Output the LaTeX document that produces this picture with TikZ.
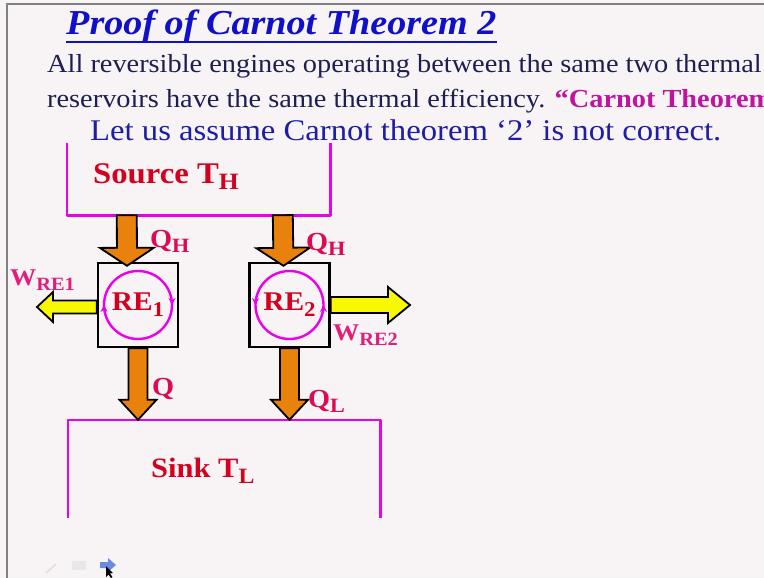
\documentclass[tikz,border=0pt]{standalone}
\usepackage{fontspec}
\setmainfont{Liberation Serif}
\usetikzlibrary{arrows.meta,calc,decorations.markings,positioning}

\definecolor{titleblue}{RGB}{16,16,200}
\definecolor{textnavy}{RGB}{30,30,80}
\definecolor{lineblue}{RGB}{30,30,165}
\definecolor{carnotpink}{RGB}{190,20,160}
\definecolor{labelred}{RGB}{212,0,30}
\definecolor{heatred}{RGB}{220,10,80}
\definecolor{workpink}{RGB}{225,30,120}
\definecolor{resmag}{RGB}{235,0,235}
\definecolor{heatorange}{RGB}{232,130,12}
\definecolor{workyellow}{RGB}{248,248,0}
\definecolor{slidebg}{RGB}{248,244,246}
\definecolor{toolblue}{RGB}{70,110,220}

% slide text is a little wider than the font
\newcommand\wide[1]{\scalebox{1.09}[1]{#1}}
\newcommand\lowsub[1]{\raisebox{-0.22em}{\scalebox{0.78}{#1}}}

% fat outlined arrow: from, to, shaft half width, head half width, head length, fill
\newcommand\flowarrow[6]{%
  \path ($(#2)!#5!(#1)$) coordinate (hb);
  \filldraw[fill=#6, draw=black, line width=1.8pt, line join=miter]
    ($(#1)!#3!90:(#2)$) -- ($(hb)!#3!90:(#2)$) -- ($(hb)!#4!90:(#2)$) -- (#2)
    -- ($(hb)!#4!-90:(#2)$) -- ($(hb)!#3!-90:(#2)$) -- ($(#1)!#3!-90:(#2)$) -- cycle;}

\begin{document}
\begin{tikzpicture}[x=1pt, y=-1pt,
  txt/.style={inner sep=0pt, anchor=base west},
  res/.style={inner sep=0pt},
  wall/.style={draw=resmag, line width=2.6pt, line join=round},
  engine/.style={draw=black, line width=2.4pt, fill=slidebg, minimum width=80pt,
    minimum height=84pt, inner sep=0pt, text=labelred,
    font=\fontsize{27}{28}\selectfont\bfseries},
  cyc/.style={draw=resmag, line width=2.4pt, postaction=decorate},
  heat/.style={txt, text=heatred, font=\fontsize{26}{30}\selectfont\bfseries},
  work/.style={txt, text=workpink, font=\fontsize{24}{26}\selectfont\bfseries}]

\path[clip] (0,0) rectangle (764,578);
\fill[slidebg] (0,0) rectangle (764,578);
\draw[gray, line width=1.5pt] (7,578) -- (7,4) -- (764,4);

% heading
\node[txt, text=titleblue, font=\fontsize{35}{40}\selectfont\bfseries\itshape] (title) at (66,35)
  {\wide{Proof of Carnot Theorem 2}};
\draw[titleblue, line width=2.4pt] ([yshift=-7pt]title.base west) -- ([yshift=-7pt]title.base east);
\node[txt, text=textnavy, font=\fontsize{26}{28}\selectfont] (line1) at (47,73)
  {\wide{All reversible engines operating between the same two thermal}};
\node[txt, text=textnavy, font=\fontsize{26}{28}\selectfont] (line2) at (47,107)
  {\wide{reservoirs have the same thermal efficiency. {\bfseries\color{carnotpink}“Carnot Theorem}}};
\node[txt, text=lineblue, font=\fontsize{30}{32}\selectfont] (line3) at (90,141)
  {\wide{Let us assume Carnot theorem ‘2’ is not correct.}};

% reservoirs
\node[res, minimum width=263pt, minimum height=72pt] (src) at (198.5,179) {};
\draw[wall] (src.north west) -- (src.south west) -- (src.south east) -- (src.north east);
\node[txt, text=labelred, font=\fontsize{30}{32}\selectfont\bfseries] (srclbl) at (93,183)
  {\wide{Source T\lowsub{H}}};

\node[res, minimum width=312pt, minimum height=98pt] (sink) at (224,469) {};
\draw[wall] (sink.south west) -- (sink.north west) -- (sink.north east) -- (sink.south east);
\node[txt, text=labelred, font=\fontsize{28}{30}\selectfont\bfseries] (sinklbl) at (151,477)
  {\wide{Sink T\lowsub{L}}};

% engines
\node[engine] (RE1) at (138,305) {\wide{RE\lowsub{1}}};
\node[engine] (RE2) at (289.5,305) {\wide{RE\lowsub{2}}};
\draw[cyc, decoration={markings,
    mark=at position 0.25 with {\arrowreversed{Stealth[length=7pt,width=7pt]}},
    mark=at position 0.75 with {\arrowreversed{Stealth[length=7pt,width=7pt]}}}]
  ([yshift=34pt]RE1.center) arc[start angle=90, end angle=450, radius=34pt];
\draw[cyc, decoration={markings,
    mark=at position 0.25 with {\arrow{Stealth[length=7pt,width=7pt]}},
    mark=at position 0.75 with {\arrow{Stealth[length=7pt,width=7pt]}}}]
  ([yshift=34pt]RE2.center) arc[start angle=90, end angle=450, radius=34pt];

% heat flows
\coordinate (q1a) at ($(src.south west)+(60,0)$);
\coordinate (q1b) at ([xshift=-11pt,yshift=-4pt]RE1.north);
\coordinate (q2a) at ($(src.south west)+(216,0)$);
\coordinate (q2b) at ([xshift=-6pt,yshift=-4pt]RE2.north);
\coordinate (q3b) at (RE1.south |- sink.north);
\coordinate (q4b) at (RE2.south |- sink.north);
\flowarrow{q1a}{q1b}{10pt}{27pt}{18pt}{heatorange}
\flowarrow{q2a}{q2b}{10pt}{27pt}{18pt}{heatorange}
\flowarrow{RE1.south}{q3b}{9.5pt}{18.5pt}{20pt}{heatorange}
\flowarrow{RE2.south}{q4b}{9.5pt}{18.5pt}{20pt}{heatorange}

% work flows
\coordinate (w1a) at ([yshift=-2pt]RE1.west);
\coordinate (w1b) at (37,307);
\coordinate (w2b) at (410,305);
\flowarrow{w1a}{w1b}{6.5pt}{15pt}{16pt}{workyellow}
\flowarrow{RE2.east}{w2b}{8pt}{18pt}{22pt}{workyellow}

% flow labels
\node[heat] (qh1) at (150,247) {\wide{Q\lowsub{H}}};
\node[heat] (qh2) at (306,250) {\wide{Q\lowsub{H}}};
\node[heat] (q1) at (152,395) {\wide{Q}};
\node[heat] (ql) at (308,407) {\wide{Q\lowsub{L}}};
\node[work] (w1) at (10,285) {\wide{W\lowsub{RE1}}};
\node[work] (w2) at (333,340) {\wide{W\lowsub{RE2}}};

% slide toolbar
\draw[gray!25, line width=1.5pt] (46,573) -- (56,564);
\fill[gray!18] (72,561) rectangle (86,570);
\fill[toolblue!80] (100,562) -- (108,562) -- (108,558) -- (116,565) -- (108,572) -- (108,568) -- (100,568) -- cycle;
\fill[black] (106,566) -- (106,577) -- (108.5,574.5) -- (111,578) -- (112.5,577) -- (110,573.5) -- (113,573) -- cycle;
\end{tikzpicture}
\end{document}
